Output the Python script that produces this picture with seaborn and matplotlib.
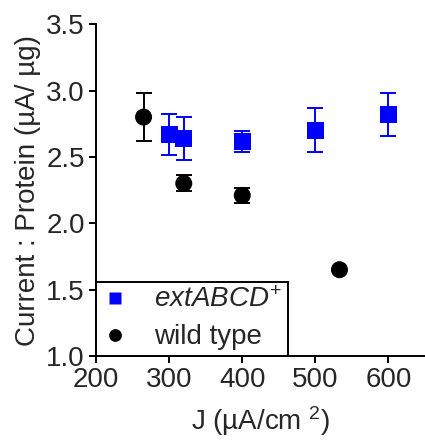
import numpy as np
import pandas as pd
import seaborn as sns
import matplotlib.pyplot as plt

# data
ext_j = [300, 320, 400, 500, 600]
ext_y = [2.67, 2.64, 2.615, 2.70, 2.82]
ext_err = [0.155, 0.16, 0.08, 0.165, 0.165]

wt_j = [265, 320, 400, 533]
wt_y = [2.80, 2.30, 2.21, 1.65]
wt_err = [0.18, 0.06, 0.055, 0.0]

ext_label = r"$\mathit{extABCD}^{+}$"
wt_label = "wild type"

df = pd.DataFrame({
    "J": ext_j + wt_j,
    "ratio": ext_y + wt_y,
    "err": ext_err + wt_err,
    "strain": [ext_label] * len(ext_j) + [wt_label] * len(wt_j),
})

sns.set_style("ticks")
plt.rcParams['font.family'] = ['Liberation Sans', 'DejaVu Sans']
plt.rcParams['mathtext.fontset'] = 'custom'
plt.rcParams['mathtext.rm'] = 'Liberation Sans'
plt.rcParams['mathtext.it'] = 'Liberation Sans:italic'

fig = plt.figure(figsize=(4.25, 4.4), dpi=100)
ax = fig.add_axes([0.226, 0.191, 0.774, 0.754])

colors = {ext_label: "#0000ff", wt_label: "black"}
markers = {ext_label: "s", wt_label: "o"}

# error bars first
for name, sub in df.groupby("strain"):
    s = sub[sub["err"] > 0]
    ax.errorbar(s["J"], s["ratio"], yerr=s["err"], fmt="none",
                ecolor=colors[name], elinewidth=1.4, capsize=6, capthick=1.4, zorder=2)

sns.scatterplot(data=df, x="J", y="ratio", hue="strain", style="strain",
                hue_order=[ext_label, wt_label], style_order=[ext_label, wt_label],
                palette=colors, markers=markers, s=150, edgecolor="none",
                ax=ax, zorder=3)

ax.set_xlim(200, 650)
ax.set_ylim(1.0, 3.5)
ax.set_xticks([200, 300, 400, 500, 600])
ax.set_yticks([1.0, 1.5, 2.0, 2.5, 3.0, 3.5])
ax.set_yticklabels(["1.0", "1.5", "2.0", "2.5", "3.0", "3.5"])
ax.tick_params(labelsize=20, width=1.4, length=5, color="black", pad=3)
for sp in ["left", "bottom"]:
    ax.spines[sp].set_linewidth(1.4)
    ax.spines[sp].set_color("black")
sns.despine(ax=ax)

ax.set_xlabel("J (µA/cm $^{2}$)", fontsize=20, labelpad=8)
ax.set_ylabel("Current : Protein (µA/ µg)", fontsize=20, labelpad=4)

leg = ax.legend(loc="lower left", bbox_to_anchor=(0, 0), borderaxespad=0,
                fontsize=20, frameon=True, fancybox=False, markerscale=0.75,
                handletextpad=0.9, handlelength=1.0, labelspacing=0.4,
                borderpad=0.2, title=None)
leg.get_frame().set_edgecolor("black")
leg.get_frame().set_linewidth(1.4)
leg.get_frame().set_alpha(1)

fig.savefig("out.png", dpi=100)
